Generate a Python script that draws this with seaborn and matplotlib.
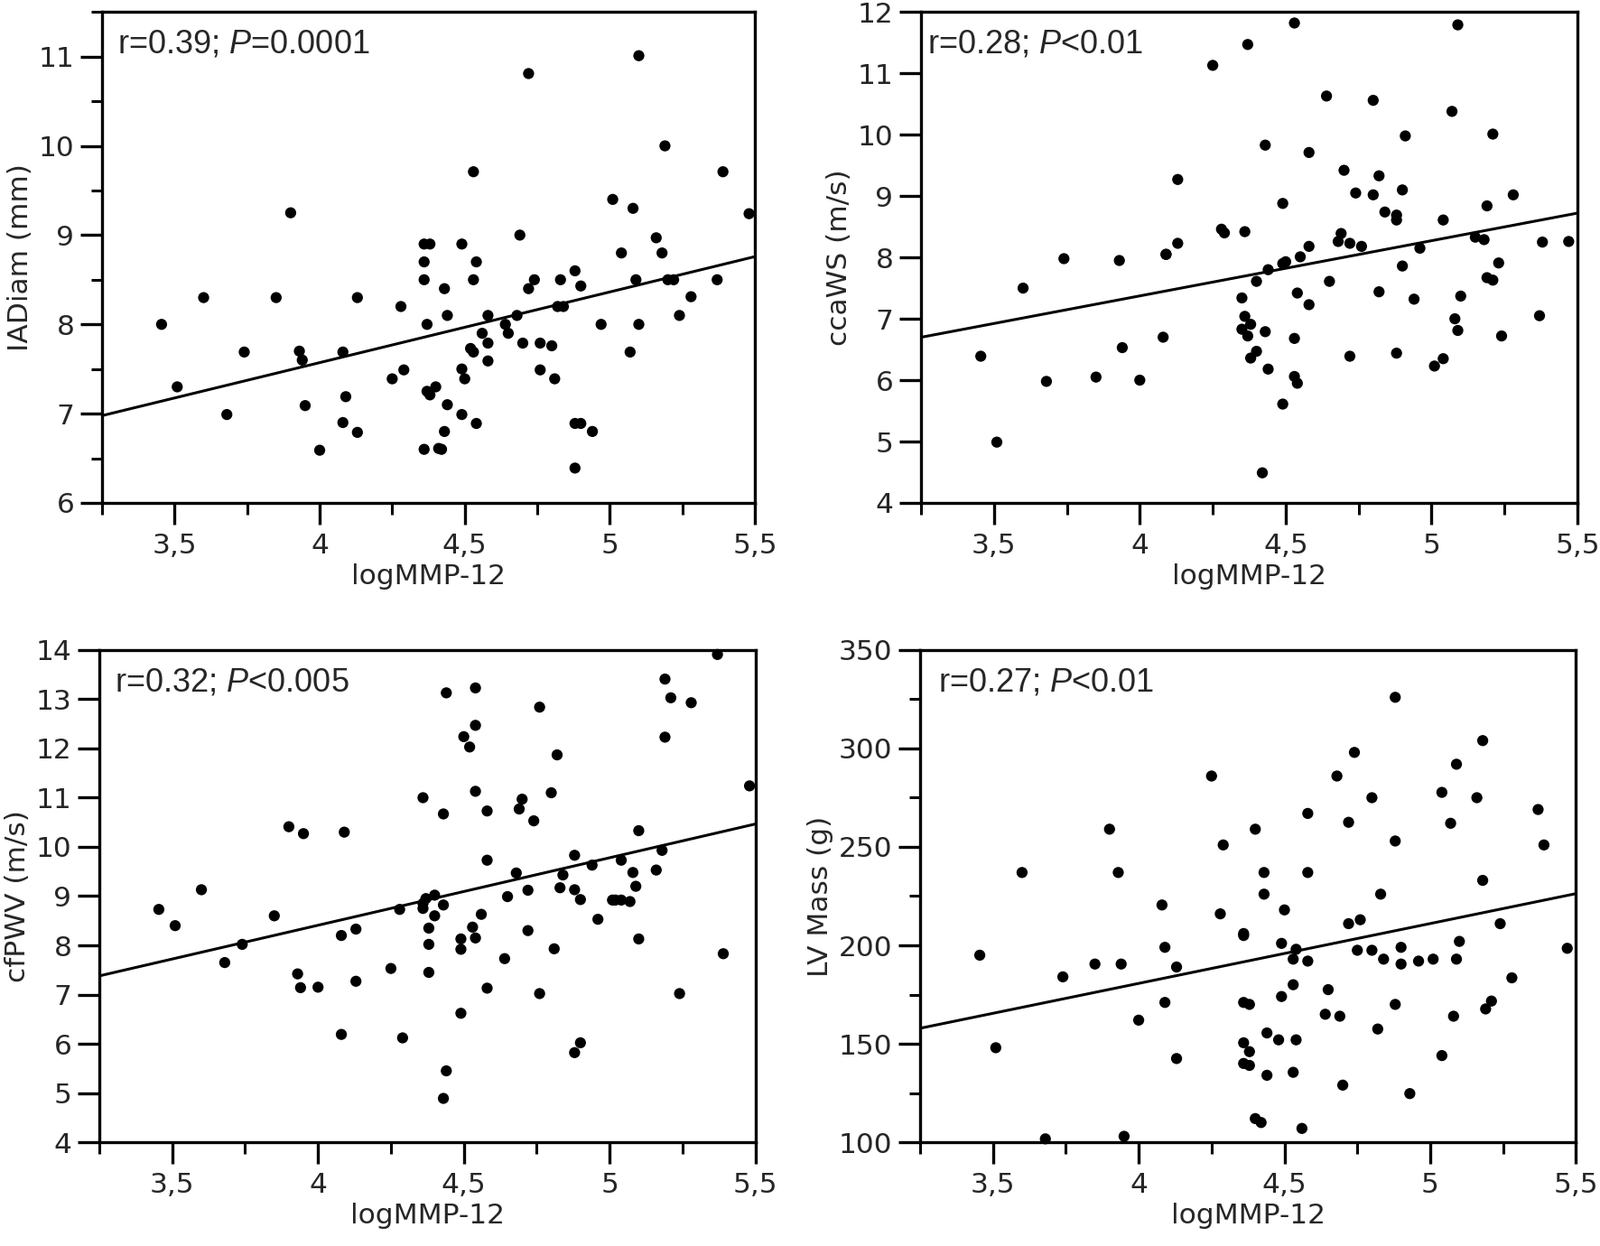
import matplotlib
matplotlib.use('Agg')
import matplotlib.pyplot as plt
import numpy as np
import pandas as pd
import seaborn as sns
from matplotlib.ticker import MultipleLocator, NullLocator

# ---- data ----
# panel A : logMMP-12 vs IADiam (mm)
x_iad = [3.455, 3.509, 3.60, 3.68, 3.74, 3.85, 3.90, 3.93, 3.94, 3.95, 4.00, 4.08, 4.09, 4.08,
         4.13, 4.13, 4.25, 4.28, 4.29, 4.36, 4.38, 4.36, 4.36, 4.37, 4.36, 4.37, 4.38, 4.40, 4.41,
         4.42, 4.43, 4.44, 4.43, 4.44, 4.49, 4.50, 4.49, 4.49, 4.53, 4.54, 4.53, 4.54, 4.52, 4.53,
         4.58, 4.58, 4.56, 4.58, 4.64, 4.65, 4.68, 4.69, 4.70, 4.72, 4.72, 4.74, 4.76, 4.76, 4.80,
         4.81, 4.82, 4.84, 4.83, 4.88, 4.90, 4.88, 4.90, 4.94, 4.88, 4.97, 5.01, 5.04, 5.07, 5.08,
         5.09, 5.10, 5.10, 5.16, 5.18, 5.19, 5.20, 5.22, 5.24, 5.28, 5.37, 5.39, 5.48]
y_iad = [8.00, 7.30, 8.30, 6.99, 7.69, 8.30, 9.25, 7.70, 7.60, 7.09, 6.59, 7.69, 7.19, 6.90,
         8.30, 6.79, 7.39, 8.20, 7.49, 8.90, 8.90, 8.70, 8.50, 8.00, 6.60, 7.25, 7.21, 7.30, 6.61,
         6.60, 6.80, 7.10, 8.40, 8.10, 7.50, 7.39, 6.99, 8.90, 9.71, 8.70, 8.50, 6.89, 7.73, 7.69,
         7.59, 7.79, 7.90, 8.10, 8.00, 7.90, 8.10, 9.00, 7.79, 10.81, 8.40, 8.50, 7.79, 7.49, 7.76,
         7.39, 8.20, 8.20, 8.50, 8.60, 8.43, 6.89, 6.89, 6.80, 6.39, 8.00, 9.40, 8.80, 7.69, 9.30,
         8.50, 8.00, 11.01, 8.97, 8.80, 10.00, 8.50, 8.50, 8.10, 8.31, 8.50, 9.71, 9.24]

# panel B : logMMP-12 vs ccaWS (m/s)
x_cca = [3.455, 3.51, 3.60, 3.68, 3.74, 3.85, 3.93, 3.94, 4.00, 4.08, 4.09, 4.09, 4.13, 4.13,
         4.25, 4.28, 4.29, 4.36, 4.35, 4.36, 4.38, 4.35, 4.37, 4.37, 4.40, 4.40, 4.38, 4.42, 4.43,
         4.43, 4.44, 4.44, 4.49, 4.49, 4.50, 4.49, 4.53, 4.53, 4.53, 4.54, 4.54, 4.55, 4.58, 4.58,
         4.58, 4.64, 4.65, 4.68, 4.69, 4.70, 4.72, 4.72, 4.74, 4.76, 4.80, 4.80, 4.82, 4.82, 4.84,
         4.88, 4.88, 4.88, 4.90, 4.90, 4.91, 4.94, 4.96, 5.01, 5.04, 5.04, 5.07, 5.08, 5.09, 5.09,
         5.10, 5.15, 5.18, 5.19, 5.19, 5.21, 5.21, 5.23, 5.24, 5.28, 5.37, 5.38, 5.47]
y_cca = [6.39, 4.99, 7.50, 5.98, 7.98, 6.05, 7.95, 6.53, 6.00, 6.70, 8.05, 8.05, 9.27, 8.23,
         11.13, 8.46, 8.40, 8.42, 7.34, 7.04, 6.91, 6.83, 6.72, 11.47, 7.61, 6.47, 6.36, 4.49, 9.83,
         6.79, 7.80, 6.18, 8.88, 7.90, 7.93, 5.61, 11.82, 6.68, 6.06, 5.95, 7.42, 8.01, 7.23, 9.71,
         8.18, 10.63, 7.61, 8.26, 8.39, 9.42, 8.23, 6.39, 9.05, 8.18, 10.56, 9.02, 9.33, 7.44, 8.74,
         8.69, 8.61, 6.44, 9.10, 7.86, 9.98, 7.32, 8.15, 6.23, 6.35, 8.61, 10.38, 7.00, 6.81, 11.79,
         7.37, 8.33, 8.29, 8.84, 7.67, 7.63, 10.01, 7.91, 6.72, 9.02, 7.05, 8.25, 8.26]

# panel C : logMMP-12 vs cfPWV (m/s)
x_pwv = [3.454, 3.51, 3.60, 3.68, 3.74, 3.85, 3.90, 3.93, 3.94, 3.95, 4.00, 4.08, 4.08, 4.09,
         4.13, 4.13, 4.25, 4.28, 4.29, 4.36, 4.36, 4.36, 4.37, 4.38, 4.38, 4.38, 4.40, 4.40, 4.43,
         4.43, 4.43, 4.44, 4.44, 4.49, 4.49, 4.49, 4.50, 4.52, 4.53, 4.54, 4.54, 4.54, 4.54, 4.56,
         4.58, 4.58, 4.58, 4.64, 4.65, 4.68, 4.69, 4.70, 4.72, 4.72, 4.74, 4.76, 4.76, 4.80, 4.81,
         4.82, 4.83, 4.84, 4.88, 4.88, 4.88, 4.90, 4.90, 4.94, 4.96, 5.01, 5.02, 5.04, 5.04, 5.07,
         5.08, 5.09, 5.10, 5.10, 5.16, 5.18, 5.19, 5.19, 5.21, 5.24, 5.28, 5.37, 5.39, 5.48]
y_pwv = [8.73, 8.40, 9.13, 7.65, 8.02, 8.60, 10.41, 7.42, 7.14, 10.27, 7.15, 6.19, 8.20, 10.30,
         8.33, 7.27, 7.53, 8.73, 6.12, 11.00, 8.75, 8.85, 8.95, 8.35, 8.02, 7.45, 9.02, 8.60, 4.89,
         8.82, 10.67, 13.13, 5.45, 8.13, 7.92, 6.62, 12.24, 12.03, 8.37, 13.23, 12.47, 8.15, 11.13,
         8.63, 7.13, 10.73, 9.73, 7.73, 8.99, 9.47, 10.77, 10.97, 9.12, 8.30, 10.53, 12.84, 7.02,
         11.10, 7.93, 11.87, 9.17, 9.43, 9.83, 9.13, 5.82, 6.02, 8.93, 9.63, 8.53, 8.92, 8.92, 9.73,
         8.92, 8.89, 9.48, 9.20, 10.33, 8.13, 9.53, 9.93, 13.41, 12.23, 13.03, 7.02, 12.93, 13.91,
         7.83, 11.24]

# panel D : logMMP-12 vs LV Mass (g)
x_lvm = [3.455, 3.51, 3.60, 3.68, 3.74, 3.85, 3.90, 3.93, 3.94, 3.95, 4.00, 4.08, 4.09, 4.09,
         4.13, 4.13, 4.25, 4.28, 4.29, 4.36, 4.36, 4.36, 4.36, 4.38, 4.36, 4.38, 4.38, 4.40, 4.40,
         4.42, 4.43, 4.43, 4.44, 4.44, 4.49, 4.48, 4.50, 4.49, 4.53, 4.53, 4.53, 4.54, 4.54, 4.56,
         4.58, 4.58, 4.58, 4.64, 4.65, 4.68, 4.69, 4.70, 4.72, 4.72, 4.74, 4.75, 4.76, 4.80, 4.80,
         4.82, 4.83, 4.84, 4.88, 4.88, 4.88, 4.90, 4.90, 4.93, 4.96, 5.01, 5.04, 5.04, 5.07, 5.08,
         5.09, 5.09, 5.10, 5.16, 5.18, 5.18, 5.19, 5.21, 5.24, 5.28, 5.37, 5.39, 5.47]
y_lvm = [195, 148, 237, 101.7, 184, 190.5, 259, 237, 190.5, 103, 162, 220.5, 171, 199,
         189, 142.5, 286, 216, 251, 206, 205, 171, 150.5, 146, 140, 139, 170, 112, 259,
         110, 237, 226, 155.5, 134, 174, 152, 218, 201, 193, 180, 135.5, 152, 198, 107,
         192, 267, 237, 165, 177.5, 286, 164, 129, 211, 262.5, 298, 197.5, 213, 275, 197.5,
         157.5, 226, 193, 326, 253, 170, 199, 190.5, 124.7, 192, 193, 277.7, 144, 262, 164,
         193, 292, 202, 275, 233, 304, 167.7, 171.7, 211, 183.5, 269, 251, 198.5]

x_label = 'logMMP-12'
x_ticks = [3.5, 4, 4.5, 5, 5.5]
x_ticklabels = ['3,5', '4', '4,5', '5', '5,5']

panels = [
    dict(x=x_iad, y=y_iad, ylabel='IADiam (mm)', ylim=(6, 11.5), major=1, minor=0.5,
         r='0.39', p='=0.0001', tx=0.024, rect=[0.0638, 0.5964, 0.408, 0.394]),
    dict(x=x_cca, y=y_cca, ylabel='ccaWS (m/s)', ylim=(4, 12), major=1, minor=None,
         r='0.28', p='<0.01', tx=0.010, rect=[0.5756, 0.5964, 0.4103, 0.394]),
    dict(x=x_pwv, y=y_pwv, ylabel='cfPWV (m/s)', ylim=(4, 14), major=1, minor=None,
         r='0.32', p='<0.005', tx=0.024, rect=[0.0621, 0.0833, 0.41, 0.395]),
    dict(x=x_lvm, y=y_lvm, ylabel='LV Mass (g)', ylim=(100, 350), major=50, minor=25,
         r='0.27', p='<0.01', tx=0.028, rect=[0.575, 0.0833, 0.41, 0.395]),
]

sns.set_theme(style='ticks')
plt.rcParams['font.family'] = ['DejaVu Sans']
plt.rcParams['mathtext.fontset'] = 'custom'
plt.rcParams['mathtext.rm'] = 'Liberation Sans'
plt.rcParams['mathtext.it'] = 'Liberation Sans:italic'

fig = plt.figure(figsize=(17.72, 13.80), dpi=100)

for pn in panels:
    ax = fig.add_axes(pn['rect'])
    df = pd.DataFrame({'x': pn['x'], 'y': pn['y']})
    ax.set_xlim(3.25, 5.5)
    ax.set_ylim(*pn['ylim'])
    sns.scatterplot(data=df, x='x', y='y', ax=ax, color='black', s=78,
                    edgecolor='none', clip_on=False, zorder=3)
    sns.regplot(data=df, x='x', y='y', ax=ax, scatter=False, ci=None, truncate=False,
                line_kws={'color': 'black', 'lw': 2.2})
    ax.set_xlim(3.25, 5.5)
    ax.set_ylim(*pn['ylim'])

    ax.set_xticks(x_ticks)
    ax.set_xticklabels(x_ticklabels)
    ax.xaxis.set_minor_locator(MultipleLocator(0.25))
    ax.yaxis.set_major_locator(MultipleLocator(pn['major']))
    if pn['minor']:
        ax.yaxis.set_minor_locator(MultipleLocator(pn['minor']))
    else:
        ax.yaxis.set_minor_locator(NullLocator())

    ax.tick_params(which='major', direction='out', length=17, width=2.4,
                   labelsize=22.5, color='black')
    ax.tick_params(axis='x', which='major', pad=6.5)
    ax.tick_params(axis='y', which='major', pad=5)
    ax.tick_params(which='minor', direction='out', length=9, width=2.2, color='black')
    for sp in ax.spines.values():
        sp.set_linewidth(2.4)
        sp.set_color('black')

    ax.set_xlabel(x_label, fontsize=22.5, labelpad=4)
    ax.set_ylabel(pn['ylabel'], fontsize=22.5, labelpad=4)

    ax.text(pn['tx'], 0.917, 'r=' + pn['r'] + r'; $\mathit{P}$' + pn['p'], transform=ax.transAxes,
            fontsize=26, family='Liberation Sans', ha='left', va='baseline')

fig.savefig('out.png', dpi=100)
